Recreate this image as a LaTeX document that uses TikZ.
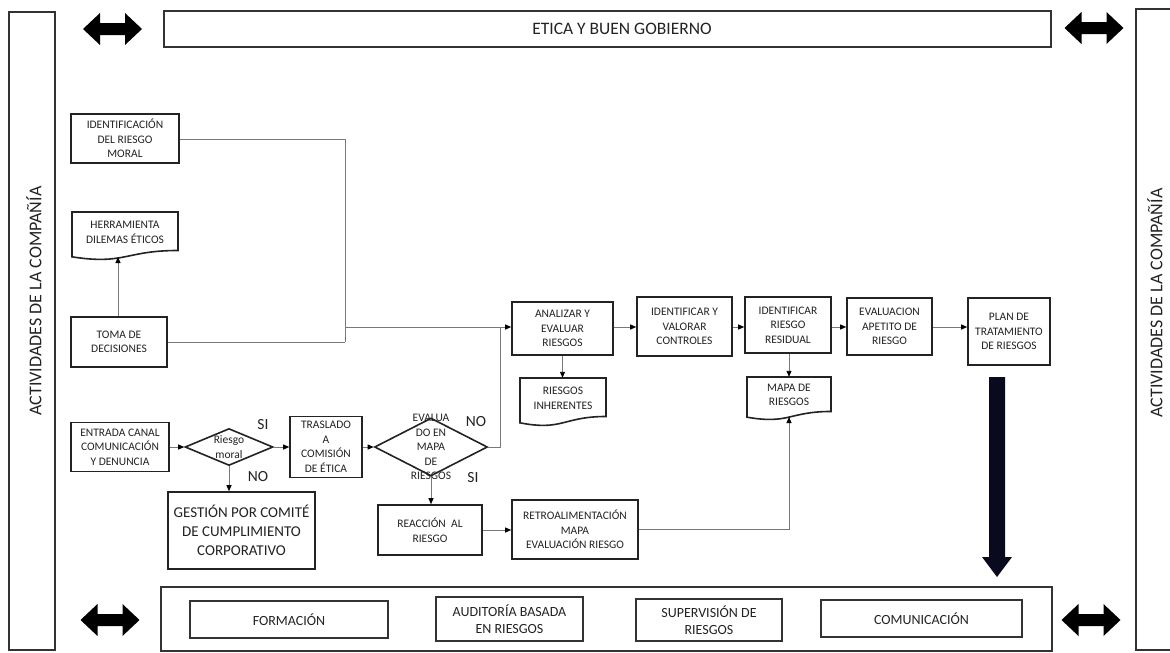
\documentclass[tikz,border=0pt]{standalone}
\usepackage{fontspec}
\setmainfont{Carlito}
\usetikzlibrary{shapes.geometric,arrows.meta,calc}

\definecolor{ink}{RGB}{35,35,35}
\definecolor{wire}{RGB}{120,120,120}
\definecolor{navy}{RGB}{10,10,30}

\tikzset{
  box/.style={draw=ink, line width=1.6pt, inner sep=0pt, align=center,
    text=ink, font=\fontsize{11.5}{14.5}\selectfont},
  btext/.style={inner sep=0pt, align=center, text=ink,
    font=\fontsize{11.5}{14.5}\selectfont},
  bigtext/.style={box, font=\fontsize{15}{19}\selectfont},
  frame/.style={draw=black!80, line width=1.2pt, inner sep=0pt, align=center,
    text=ink},
  decision/.style={diamond, draw=ink, line width=1.6pt, inner sep=0pt},
  conn/.style={draw=wire, line width=0.9pt},
  arr/.style={conn, -{Triangle[length=6pt,width=5pt,color=black]}},
  yesno/.style={inner sep=0pt, text=ink, font=\fontsize{15.5}{16}\selectfont},
  sidetext/.style={rotate=90, inner sep=0pt, text=ink,
    font=\fontsize{18}{19}\selectfont},
  bartext/.style={inner sep=0pt, text=ink, font=\fontsize{17.5}{18}\selectfont},
  supporttext/.style={frame, font=\fontsize{14}{17}\selectfont},
}

% flowchart "document" symbol: name, x1, y1 (top), x2, h, text
\newcommand\docnode[6]{%
  \pgfmathsetmacro\dxm{(#2+#4)/2}%
  \pgfmathsetmacro\dyr{#3+0.802*#5}%
  \pgfmathsetmacro\dyl{#3+0.934*#5}%
  \pgfmathsetmacro\dyc{#3+1.107*#5}%
  \pgfmathsetmacro\dyt{#3+0.42*#5}%
  \pgfmathsetmacro\dw{#4-#2}%
  \pgfmathsetmacro\dh{0.84*#5}%
  \draw[draw=ink, line width=1.6pt] (#2,#3) -- (#4,#3) -- (#4,\dyr)
     .. controls (\dxm,\dyr) and (\dxm,\dyc) .. (#2,\dyl) -- cycle;
  \node[btext, minimum width=\dw pt, minimum height=\dh pt] (#1) at (\dxm,\dyt) {#6};
}

% thick block double arrow centred at (#1,#2)
\newcommand\blockdbl[2]{%
  \fill[black] ($(#1,#2)+(-29.5,0)$) -- ++(17,-16) -- ++(0,10) -- ++(25,0)
    -- ++(0,-10) -- ++(17,16) -- ++(-17,16) -- ++(0,-10) -- ++(-25,0)
    -- ++(0,10) -- cycle;
}

\begin{document}
\begin{tikzpicture}[x=1pt,y=-1pt]
\useasboundingbox (0,0) rectangle (1170,653);
\fill[white] (0,0) rectangle (1170,653);

% company activity side bars
\node[frame, minimum width=46pt, minimum height=638pt] (leftbar) at (32,331) {};
\node[frame, minimum width=44pt, minimum height=641pt] (rightbar) at (1158,329.5) {};
\node[sidetext] (lefttxt) at (34,301) {ACTIVIDADES DE LA COMPAÑÍA};
\node[sidetext] (righttxt) at (1155,303) {ACTIVIDADES DE LA COMPAÑÍA};

% ethics and governance bar
\node[frame, minimum width=887pt, minimum height=36pt] (topbar) at (607.5,29) {};
\node[bartext] (toptxt) at (622,29) {ETICA Y BUEN GOBIERNO};
\blockdbl{112.5}{29}
\blockdbl{1094}{28}

% support activities bar
\node[frame, minimum width=891pt, minimum height=64pt] (botbar) at (606.5,619) {};
\node[supporttext, minimum width=198pt, minimum height=37pt] (formacion)
  at (289,619.5) {FORMACIÓN};
\node[supporttext, minimum width=147pt, minimum height=44pt] (auditoria)
  at (509.5,619) {AUDITORÍA BASADA\\EN RIESGOS};
\node[supporttext, minimum width=146pt, minimum height=42pt] (supervision)
  at (709,620) {SUPERVISIÓN DE\\RIESGOS};
\node[supporttext, minimum width=201pt, minimum height=37pt] (comunicacion)
  at (921.5,618.5) {COMUNICACIÓN};
\blockdbl{110}{620}
\blockdbl{1091}{620}

% moral risk inputs
\node[box, minimum width=108pt, minimum height=49pt] (identmoral) at (125,138.5)
  {IDENTIFICACIÓN\\DEL RIESGO\\MORAL};
\docnode{herr}{72}{212}{178}{48}{HERRAMIENTA\\DILEMAS ÉTICOS}
\node[box, minimum width=96pt, minimum height=50pt] (toma) at (119,342)
  {TOMA DE\\DECISIONES};

% whistleblowing channel
\node[box, minimum width=98pt, minimum height=49pt] (entrada) at (120,447)
  {ENTRADA CANAL\\COMUNICACIÓN\\Y DENUNCIA};
\node[decision, minimum width=88pt, minimum height=37pt] (dia1) at (229,447) {};
\node[btext] (dia1t) at (dia1) {Riesgo\\moral};
\node[box, minimum width=72pt, minimum height=61pt] (trasl) at (326,447)
  {TRASLADO\\A\\COMISIÓN\\DE ÉTICA};
\node[bigtext, minimum width=147pt, minimum height=77pt] (gest) at (241.5,530.5)
  {GESTIÓN POR COMITÉ\\DE CUMPLIMIENTO\\CORPORATIVO};
\node[decision, minimum width=113pt, minimum height=58pt] (dia2) at (431,447) {};
\node[btext] (dia2t) at (dia2) {EVALUA\\DO EN\\MAPA\\DE\\RIESGOS};
\node[box, minimum width=104pt, minimum height=50pt] (reac) at (430,530)
  {REACCIÓN~~AL\\RIESGO};
\node[box, minimum width=126pt, minimum height=59pt] (retro) at (575,529.5)
  {RETROALIMENTACIÓN\\MAPA\\EVALUACIÓN RIESGO};

\node[yesno] (si1) at (263,425) {SI};
\node[yesno] (no1) at (258,477) {NO};
\node[yesno] (no2) at (476,422) {NO};
\node[yesno] (si2) at (473,478) {SI};

% risk management chain
\node[box, minimum width=101pt, minimum height=53pt] (analizar) at (562.5,328.5)
  {ANALIZAR Y\\EVALUAR\\RIESGOS};
\docnode{inh}{520}{378}{606}{48}{RIESGOS\\INHERENTES}
\node[box, minimum width=95pt, minimum height=59pt] (controles) at (684.5,326.5)
  {IDENTIFICAR Y\\VALORAR\\CONTROLES};
\node[box, minimum width=86pt, minimum height=56pt] (residual) at (788,325)
  {IDENTIFICAR\\RIESGO\\RESIDUAL};
\docnode{mapa}{747}{377}{831}{43}{MAPA DE\\RIESGOS}
\node[box, minimum width=85pt, minimum height=57pt] (apetito) at (889.5,326.5)
  {EVALUACION\\APETITO DE\\RIESGO};
\node[box, minimum width=82pt, minimum height=67pt] (plan) at (1009,331.5)
  {PLAN DE\\TRATAMIENTO\\DE RIESGOS};

% junction points
\coordinate (jA) at (345,342);
\coordinate (jB) at (345,327);
\coordinate (jD) at (500,327);
\coordinate (herrbot) at (118,257);
\coordinate (mapabot) at (789,417);

% connectors
\draw[conn] (identmoral.east |- 0,139) -| (jA);
\draw[conn] (toma.east) -- (jA);
\draw[arr] (jB) -- (jB -| analizar.west);
\draw[arr] (toma.north -| herrbot) -- (herrbot);
\draw[arr] (entrada.east) -- (dia1.west);
\draw[arr] (dia1.east) -- (trasl.west);
\draw[arr] (dia1.south) -- (dia1.south |- gest.north);
\draw[arr] (trasl.east) -- (dia2.west);
\draw[conn] (dia2.east) -| (jD);
\draw[arr] (dia2.south) -- (dia2.south |- reac.north);
\draw[arr] (reac.east) -- (reac.east -| retro.west);
\draw[arr] (retro.east) -| (mapabot);
\draw[arr] (analizar.east |- 0,327) -- (controles.west |- 0,327);
\draw[arr] (controles.east |- 0,327) -- (residual.west |- 0,327);
\draw[arr] (residual.east |- 0,327) -- (apetito.west |- 0,327);
\draw[arr] (apetito.east |- 0,327) -- (plan.west |- 0,327);
\draw[arr] (analizar.south) -- (analizar.south |- inh.north);
\draw[arr] (residual.south -| mapabot) -- (mapabot |- mapa.north);

% treatment plan feeds the support activities
\fill[navy] (989,377) -- (1005,377) -- (1005,557) -- (1012,557) -- (997,577)
  -- (982,557) -- (989,557) -- cycle;
\end{tikzpicture}
\end{document}
